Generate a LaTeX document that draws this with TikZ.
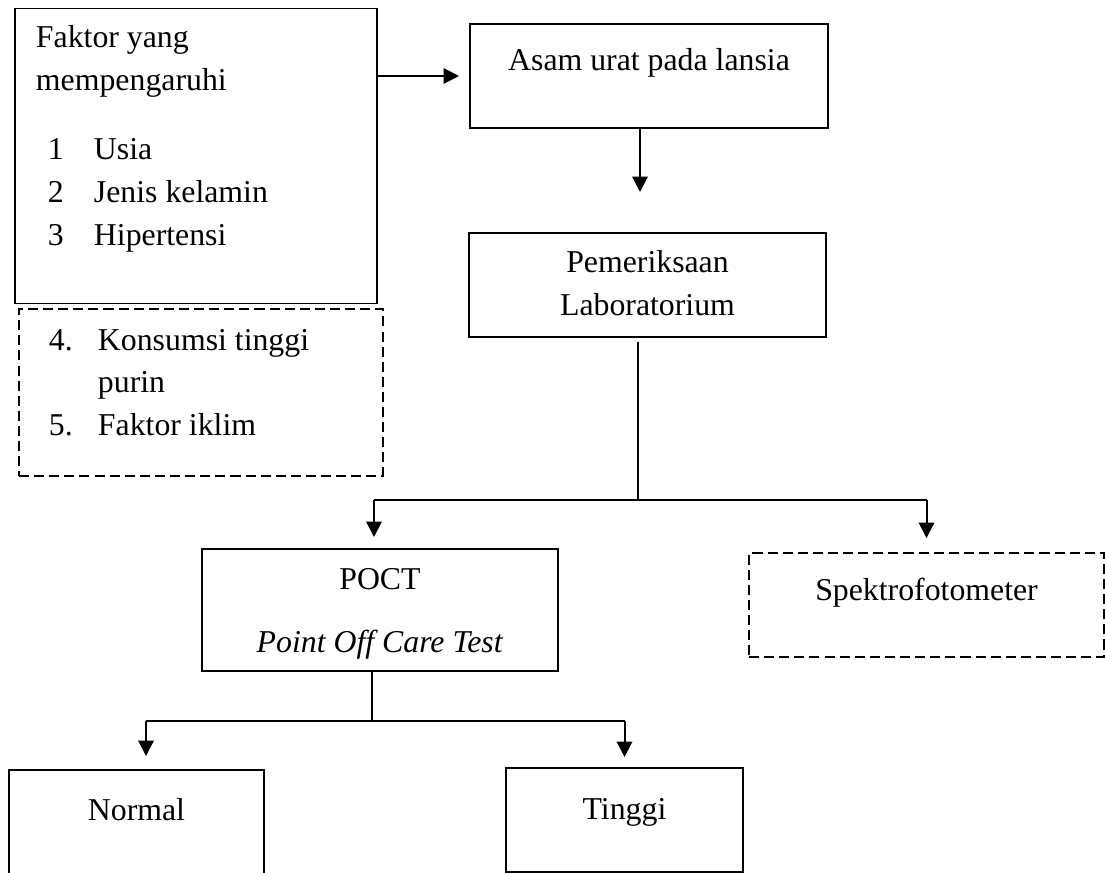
\documentclass[tikz,border=0pt]{standalone}
\usepackage{fontspec}
\setmainfont{Liberation Serif}
\usetikzlibrary{arrows.meta,positioning}
\newlength{\px}
\setlength{\px}{0.3774pt}

\begin{document}
\begin{tikzpicture}[
    x=0.3774pt, y=-0.3774pt,
    box/.style={
        rectangle,
        draw=black,
        line width=0.75pt,
        inner sep=0pt,
        anchor=north west,
        font=\fontsize{12pt}{16.2pt}\selectfont
    },
    dashbox/.style={box, dash pattern=on 3.8pt off 1.9pt},
    arrow/.style={-{Triangle[length=5.8pt,width=5.8pt]}, line width=0.75pt},
    branch/.style={line width=0.45pt}
]
    \useasboundingbox (0,0) rectangle (1105,872);

    % Define nodes
    \node[box, minimum width=362\px, text height=39.5\px, text depth=255.5\px] (faktor) at (14,7.5)
        {\makebox[320\px][l]{\begin{tabular}[t]{@{}l@{}}
            Faktor yang\\
            mempengaruhi\\[26\px]
            \hspace{12\px}\makebox[46\px][l]{1}Usia\\
            \hspace{12\px}\makebox[46\px][l]{2}Jenis kelamin\\
            \hspace{12\px}\makebox[46\px][l]{3}Hipertensi
        \end{tabular}}};
    \node[dashbox, minimum width=364\px, text height=41\px, text depth=126\px] (extra) at (18,308)
        {\makebox[304\px][l]{\begin{tabular}[t]{@{}l@{}}
            \makebox[49\px][l]{4.}Konsumsi tinggi\\
            \makebox[49\px][l]{}purin\\
            \makebox[49\px][l]{5.}Faktor iklim
        \end{tabular}}};
    \node[box, minimum width=358\px, text height=47\px, text depth=57\px] (asam) at (469,23)
        {Asam urat pada lansia};
    \node[box, minimum width=357\px, text height=40\px, text depth=64\px] (lab) at (468,232)
        {\begin{tabular}[t]{@{}c@{}}Pemeriksaan\\Laboratorium\end{tabular}};
    \node[box, minimum width=356\px, text height=40\px, text depth=82\px] (poct) at (201,548)
        {\begin{tabular}[t]{@{}c@{}}POCT\\[21\px]\textit{Point Off Care Test}\end{tabular}};
    \node[dashbox, minimum width=355\px, text height=47\px, text depth=57\px] (spektro) at (748,552)
        {Spektrofotometer};
    \node[box, minimum width=255\px, text height=50\px, text depth=55\px] (normal) at (8,769)
        {Normal};
    \node[box, minimum width=237\px, text height=51\px, text depth=53\px] (tinggi) at (505,767)
        {Tinggi};

    % Fork points
    \coordinate (labfork) at (638,500);
    \coordinate (poctfork) at (372,721);
    \coordinate (asamout) at ([xshift=-9\px]asam.south);
    \coordinate (poctin) at ([xshift=-6\px]poct.north);
    \coordinate (normalin) at ([xshift=9.5\px]normal.north);

    % Straight arrows
    \draw[arrow, shorten >=10\px] (asam.west -| faktor.east) -- (asam.west);
    \draw[arrow, shorten >=40\px] (asamout) -- (asamout |- lab.north);

    % Branches below the lab box
    \draw[branch, shorten <=4\px] (labfork |- lab.south) -- (labfork);
    \draw[branch] (poctin |- labfork) -- (spektro.north |- labfork);
    \draw[arrow, shorten >=11\px] (poctin |- labfork) -- (poctin);
    \draw[arrow, shorten >=14\px] (spektro.north |- labfork) -- (spektro.north);

    % Branches below the POCT box
    \draw[branch] (poctfork |- poct.south) -- (poctfork);
    \draw[branch] (normalin |- poctfork) -- (tinggi.north |- poctfork);
    \draw[arrow, shorten >=13\px] (normalin |- poctfork) -- (normalin);
    \draw[arrow, shorten >=10\px] (tinggi.north |- poctfork) -- (tinggi.north);
\end{tikzpicture}
\end{document}
